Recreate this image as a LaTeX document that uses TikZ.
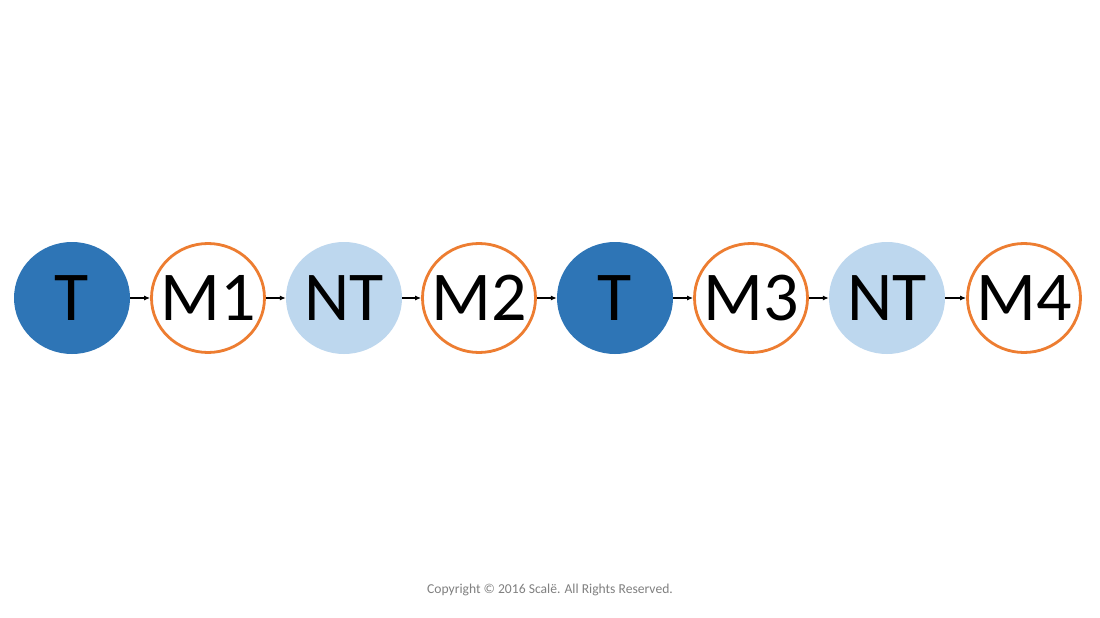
\documentclass[tikz,border=0pt]{standalone}
\usepackage{fontspec}
\setmainfont{Carlito}
\usetikzlibrary{arrows.meta,shapes.geometric}
\definecolor{dblue}{RGB}{46,117,182}
\definecolor{lblue}{RGB}{189,215,238}
\definecolor{orng}{RGB}{237,125,49}
\definecolor{cgray}{RGB}{128,128,128}
\newcommand{\zb}[1]{\makebox[0pt]{#1}}
\begin{document}
\begin{tikzpicture}[x=1pt,y=-1pt,
  base/.style={ellipse, minimum width=116pt, minimum height=112pt, inner sep=0pt,
    font=\fontsize{70}{70}\selectfont, text=black},
  tnode/.style={base, fill=dblue},
  ntnode/.style={base, fill=lblue},
  mnode/.style={base, draw=orng, line width=2.8pt, fill=white, minimum width=113pt, minimum height=109pt},
  conn/.style={-{Latex[length=6pt,width=5pt]}, line width=1.1pt, black}]
\useasboundingbox[fill=white] (0,0) rectangle (1100,618);
\node[tnode]  (n1) at (72,298) {\zb{T}};
\node[mnode]  (n2) at (208,298) {\zb{M1}};
\node[ntnode] (n3) at (344,298) {\zb{NT}};
\node[mnode]  (n4) at (479,298) {\zb{M2}};
\node[tnode]  (n5) at (615,298) {\zb{T}};
\node[mnode]  (n6) at (751,298) {\zb{M3}};
\node[ntnode] (n7) at (887,298) {\zb{NT}};
\node[mnode]  (n8) at (1024,298) {\zb{M4}};
\foreach \a/\b in {n1/n2,n2/n3,n3/n4,n4/n5,n5/n6,n6/n7,n7/n8}
  \draw[conn] (\a) -- (\b);
\node[text=cgray, font=\fontsize{13.6}{13.6}\selectfont] (cr) at (550,590) {Copyright © 2016 Scalë. All Rights Reserved.};
\end{tikzpicture}
\end{document}
